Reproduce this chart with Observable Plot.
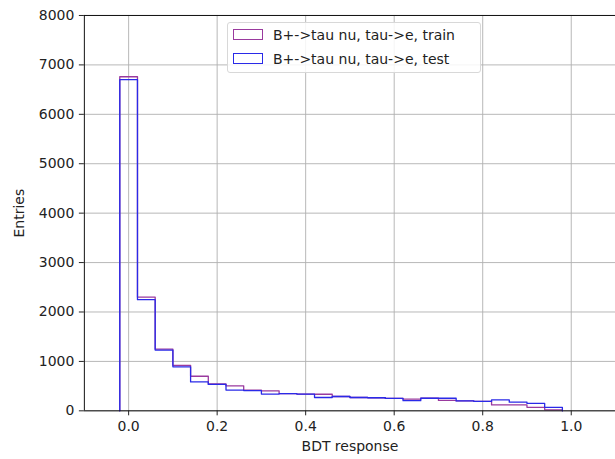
<!DOCTYPE html>
<html>
<head>
<meta charset="utf-8">
<script src="https://cdn.jsdelivr.net/npm/d3@7"></script>
<script src="https://cdn.jsdelivr.net/npm/@observablehq/plot@0.6"></script>
<style>
  html, body { margin: 0; padding: 0; background: #fff; overflow: hidden; }
  #wrap { position: relative; width: 615px; height: 459px; font-family: "DejaVu Sans", sans-serif; }
  #legend { position: absolute; left: 227px; top: 22px; width: 252px; height: 49px;
    border: 1px solid #d8d8d8; border-radius: 3px; background: rgba(255,255,255,0.85);
    font-size: 14px; color: #222; }
  .row { position: absolute; left: 5px; height: 17px; display: flex; align-items: center; }
  .patch { width: 28px; height: 9px; border: 1.3px solid; margin-right: 10px; }
</style>
</head>
<body>
<div id="wrap"></div>
<script>
// Bin edges (lower edges), width 0.04
const binStart = -0.02;
const binWidth = 0.04;
const seriesNames = ["B+->tau nu, tau->e, train", "B+->tau nu, tau->e, test"];
const seriesColors = ["#9a3a9e", "#2a2ae8"];
const trainCounts = [6760, 2300, 1250, 920, 700, 545, 505, 420, 405, 350, 340, 335, 290, 270, 265, 250, 235, 255, 210, 200, 190, 120, 120, 70, 20];
const testCounts  = [6700, 2250, 1230, 890, 585, 535, 420, 410, 340, 350, 340, 270, 290, 270, 265, 250, 205, 255, 255, 200, 190, 222, 175, 150, 70];
const xTicks = [0, 0.2, 0.4, 0.6, 0.8, 1.0];
const yTicks = [0, 1000, 2000, 3000, 4000, 5000, 6000, 7000, 8000];

function stepPoints(counts, series) {
  const pts = [{x: binStart, y: 0, s: series}];
  counts.forEach((c, k) => pts.push({x: binStart + binWidth * k, y: c, s: series}));
  pts.push({x: binStart + binWidth * counts.length, y: 0, s: series});
  return pts;
}
const trainPts = stepPoints(trainCounts, seriesNames[0]);
const testPts = stepPoints(testCounts, seriesNames[1]);

const chart = Plot.plot({
  width: 616,
  height: 459,
  marginLeft: 84,
  marginRight: 0,
  marginTop: 15,
  marginBottom: 48,
  style: {fontFamily: "DejaVu Sans, sans-serif", fontSize: "14px", color: "#222", background: "#fff"},
  x: {domain: [-0.1, 1.1]},
  y: {domain: [0, 8000]},
  marks: [
    Plot.gridX(xTicks, {stroke: "#b0b0b0", strokeOpacity: 1, strokeWidth: 0.9}),
    Plot.gridY(yTicks, {stroke: "#b0b0b0", strokeOpacity: 1, strokeWidth: 0.9}),
    Plot.line(trainPts, {x: "x", y: "y", curve: "step-after", stroke: seriesColors[0], strokeWidth: 1.3}),
    Plot.line(testPts, {x: "x", y: "y", curve: "step-after", stroke: seriesColors[1], strokeWidth: 1.3}),
    Plot.ruleX([-0.1], {stroke: "#111", strokeWidth: 1}),
    Plot.ruleY([0], {stroke: "#111", strokeWidth: 1}),
    Plot.ruleY([8000], {stroke: "#111", strokeWidth: 1}),
    Plot.axisX(xTicks, {tickFormat: d3.format(".1f"), tickSize: 5, tickPadding: 5, fontSize: 14,
      label: "BDT response", labelAnchor: "center", labelArrow: "none", labelOffset: 40}),
    Plot.axisY(yTicks, {tickFormat: d3.format("d"), tickSize: 5, tickPadding: 5, fontSize: 14,
      label: "Entries", labelAnchor: "center", labelArrow: "none", labelOffset: 70})
  ]
});
const wrap = document.getElementById("wrap");
wrap.appendChild(chart);

const legend = document.createElement("div");
legend.id = "legend";
seriesNames.forEach((name, i) => {
  const row = document.createElement("div");
  row.className = "row";
  row.style.top = (3 + i * 24) + "px";
  const p = document.createElement("span");
  p.className = "patch";
  p.style.borderColor = seriesColors[i];
  const t = document.createElement("span");
  t.textContent = name;
  row.appendChild(p); row.appendChild(t);
  legend.appendChild(row);
});
wrap.appendChild(legend);
</script>
</body>
</html>
